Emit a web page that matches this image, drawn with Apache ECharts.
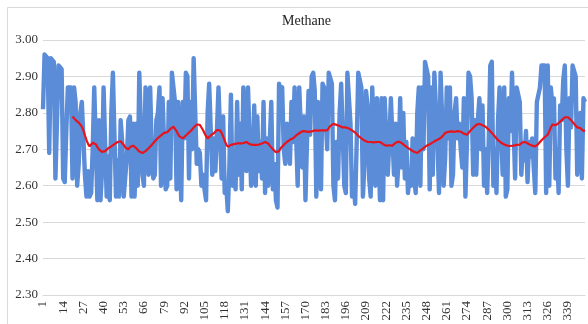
<!DOCTYPE html>
<html>
<head>
<meta charset="utf-8">
<script src="https://cdn.jsdelivr.net/npm/echarts@6/dist/echarts.min.js"></script>
<style>
html,body{margin:0;padding:0;background:#fff;}
#chart{width:588px;height:324px;}
</style>
</head>
<body>
<div id="chart"></div>
<script>
const chartTitle = 'Methane';
const categoryCount = 350;
const categories = Array.from({length: categoryCount}, (_, k) => String(k + 1));
const yTicks = [2.30, 2.40, 2.50, 2.60, 2.70, 2.80, 2.90, 3.00];

const methane = [
 2.81,2.96,2.96,2.95,2.69,2.95,2.95,2.94,2.62,2.62,
 2.93,2.93,2.92,2.62,2.61,2.75,2.87,2.87,2.87,2.62,
 2.87,2.83,2.60,2.66,2.80,2.83,2.83,2.63,2.57,2.64,
 2.57,2.58,2.70,2.87,2.87,2.56,2.78,2.56,2.64,2.87,
 2.87,2.57,2.68,2.56,2.80,2.91,2.91,2.57,2.67,2.57,
 2.78,2.72,2.57,2.57,2.68,2.78,2.79,2.57,2.77,2.57,
 2.77,2.60,2.91,2.91,2.63,2.60,2.87,2.84,2.63,2.87,
 2.70,2.62,2.63,2.78,2.80,2.87,2.60,2.84,2.84,2.59,
 2.60,2.83,2.62,2.91,2.91,2.83,2.59,2.83,2.70,2.56,
 2.83,2.73,2.91,2.90,2.62,2.83,2.70,2.95,2.95,2.66,
 2.70,2.69,2.60,2.63,2.59,2.56,2.80,2.88,2.88,2.63,
 2.73,2.64,2.75,2.87,2.87,2.62,2.79,2.58,2.60,2.53,
 2.65,2.85,2.60,2.68,2.59,2.83,2.63,2.77,2.59,2.87,
 2.87,2.64,2.87,2.87,2.60,2.63,2.82,2.60,2.79,2.64,
 2.72,2.62,2.83,2.58,2.73,2.60,2.72,2.83,2.59,2.66,
 2.56,2.54,2.88,2.86,2.87,2.70,2.66,2.77,2.73,2.66,
 2.83,2.72,2.87,2.87,2.60,2.87,2.87,2.65,2.79,2.56,
 2.72,2.86,2.74,2.90,2.91,2.86,2.57,2.83,2.73,2.59,
 2.88,2.87,2.87,2.70,2.91,2.91,2.88,2.60,2.56,2.72,
 2.62,2.80,2.88,2.88,2.60,2.58,2.91,2.91,2.77,2.57,
 2.62,2.55,2.72,2.91,2.91,2.87,2.57,2.66,2.86,2.82,
 2.62,2.57,2.87,2.87,2.60,2.84,2.84,2.56,2.84,2.56,
 2.84,2.84,2.63,2.72,2.84,2.84,2.63,2.77,2.60,2.67,
 2.84,2.65,2.80,2.62,2.72,2.58,2.62,2.60,2.73,2.62,
 2.58,2.80,2.87,2.60,2.87,2.70,2.94,2.94,2.90,2.59,
 2.87,2.63,2.91,2.91,2.72,2.58,2.91,2.79,2.60,2.68,
 2.87,2.73,2.87,2.60,2.63,2.80,2.84,2.73,2.77,2.70,
 2.65,2.84,2.57,2.72,2.91,2.90,2.84,2.63,2.78,2.63,
 2.78,2.84,2.70,2.82,2.60,2.70,2.58,2.72,2.93,2.94,
 2.60,2.70,2.58,2.78,2.87,2.87,2.63,2.87,2.57,2.59,
 2.84,2.75,2.91,2.91,2.62,2.87,2.87,2.83,2.63,2.71,
 2.67,2.75,2.61,2.72,2.68,2.73,2.65,2.58,2.83,2.83,
 2.87,2.93,2.93,2.93,2.58,2.93,2.60,2.87,2.82,2.84,
 2.62,2.70,2.58,2.82,2.78,2.89,2.93,2.70,2.60,2.84,
 2.76,2.93,2.93,2.90,2.63,2.77,2.80,2.62,2.84,2.83
];

// moving-average trend line (starts at index 19)
const trendStart = 19;
const trend = [
 2.790,2.786,2.780,2.776,2.773,2.770,
 2.762,2.752,2.738,2.725,2.715,2.708,
 2.712,2.718,2.720,
 2.714,2.706,2.700,2.695,2.693,2.692,
 2.695,2.698,2.703,2.706,2.708,2.710,
 2.714,2.716,2.720,2.719,2.722,2.720,
 2.712,2.705,2.703,2.700,
 2.706,2.708,2.710,
 2.706,2.703,2.698,2.694,2.691,2.690,
 2.692,2.695,2.699,2.703,2.707,
 2.712,2.716,2.722,2.726,2.731,2.735,
 2.738,2.741,2.745,2.748,2.747,2.752,2.756,2.760,2.762,
 2.757,2.750,2.741,2.735,2.733,2.730,
 2.734,2.738,2.742,2.746,2.750,
 2.754,2.760,2.765,2.768,2.770,
 2.767,2.762,2.753,2.744,2.736,2.730,
 2.733,2.738,2.741,2.744,2.748,2.753,2.757,
 2.752,2.745,2.735,2.724,2.713,2.707,
 2.710,2.712,2.711,2.714,2.713,2.716,2.715,2.716,
 2.718,2.717,2.720,2.720,2.716,2.714,2.713,2.712,
 2.710,2.712,2.710,2.713,2.712,2.716,2.718,2.720,2.720,
 2.716,2.710,2.705,2.700,2.695,2.692,2.690,
 2.695,2.703,2.708,2.712,2.716,2.720,
 2.722,2.726,2.728,2.730,
 2.734,2.738,2.740,2.744,2.748,2.750,
 2.752,2.749,2.751,2.748,2.751,2.749,2.750,
 2.752,2.748,2.751,2.749,2.752,2.748,2.752,2.750,2.752,
 2.758,2.764,2.768,2.770,
 2.770,2.767,2.768,2.764,2.762,2.760,
 2.758,2.760,2.756,2.757,2.754,2.752,2.750,
 2.746,2.742,2.737,2.733,2.730,2.726,2.724,2.722,2.720,
 2.722,2.720,2.721,2.719,2.722,2.720,2.718,2.720,
 2.716,2.714,2.712,2.710,2.713,2.711,2.709,2.710,
 2.714,2.718,2.720,2.721,2.720,
 2.717,2.713,2.710,2.707,2.704,2.701,2.698,2.695,2.693,2.691,2.690,
 2.693,2.697,2.700,2.703,2.707,2.710,
 2.713,2.714,2.717,2.719,2.722,2.724,2.726,2.728,2.730,
 2.735,2.740,2.745,2.750,
 2.748,2.752,2.749,2.752,2.748,2.751,2.750,
 2.747,2.748,2.745,2.743,2.741,2.740,
 2.745,2.750,2.755,2.759,2.764,2.767,2.769,2.770,
 2.768,2.766,2.765,2.762,2.758,2.754,2.750,
 2.745,2.740,2.735,2.730,2.725,2.720,
 2.718,2.715,2.713,2.711,2.710,2.712,2.709,2.711,2.710,
 2.714,2.712,2.716,2.713,2.718,2.720,
 2.717,2.719,2.716,2.714,2.712,2.710,2.709,2.708,2.710,
 2.715,2.720,2.725,2.729,2.733,2.737,2.740,
 2.750,2.760,2.768,
 2.770,2.766,2.768,2.772,2.776,2.780,2.784,2.788,2.790,
 2.788,2.784,2.780,2.775,2.770,2.765,2.760,
 2.762,2.758,2.754,2.750,2.752
];

const trendData = new Array(trendStart).fill(null).concat(trend);

const FONT = "'Liberation Serif','Times New Roman',serif";
const chart = echarts.init(document.getElementById('chart'), null, {renderer: 'canvas'});
chart.setOption({
  animation: false,
  backgroundColor: '#ffffff',
  title: {
    text: chartTitle,
    left: 277, top: 9,
    textStyle: {fontFamily: FONT, fontSize: 14, fontWeight: 'normal', color: '#222'}
  },
  graphic: [{
    type: 'rect', silent: true,
    shape: {x: 7.5, y: 7.5, width: 600, height: 340},
    style: {fill: 'none', stroke: '#d9d9d9', lineWidth: 1}
  }],
  grid: {left: 43, right: 3, top: 40, bottom: 29, containLabel: false},
  xAxis: {
    type: 'category',
    data: categories,
    boundaryGap: false,
    axisLine: {show: true, lineStyle: {color: '#d9d9d9'}},
    axisTick: {show: false},
    splitLine: {show: false},
    axisLabel: {
      interval: 12, rotate: 90, margin: 6,
      fontFamily: FONT, fontSize: 13, color: '#333'
    }
  },
  yAxis: {
    type: 'value',
    min: yTicks[0], max: yTicks[yTicks.length - 1], interval: 0.1,
    axisLine: {show: false},
    axisTick: {show: false},
    splitLine: {lineStyle: {color: '#d9d9d9', width: 1}},
    axisLabel: {
      margin: 5, fontFamily: FONT, fontSize: 13, color: '#333',
      formatter: v => v.toFixed(2)
    }
  },
  series: [
    {
      type: 'line', data: methane, showSymbol: false,
      lineStyle: {color: '#5b8cd8', width: 4.4, join: 'round'},
      itemStyle: {color: '#5b8cd8'}, z: 2
    },
    {
      type: 'line', data: trendData, showSymbol: false, connectNulls: false,
      lineStyle: {color: '#e8141c', width: 2.2},
      itemStyle: {color: '#e8141c'}, z: 3
    }
  ]
});
</script>
</body>
</html>
